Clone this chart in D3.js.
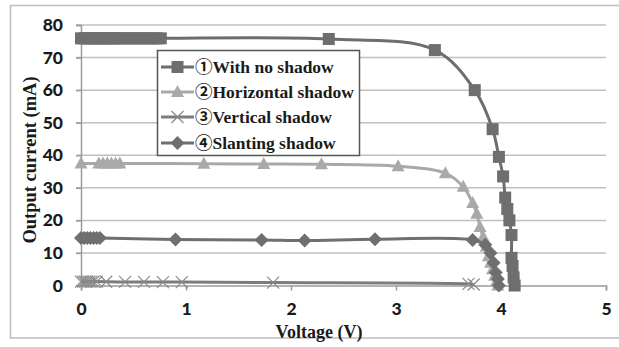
<!DOCTYPE html>
<html><head><meta charset="utf-8">
<script src="https://cdn.jsdelivr.net/npm/d3@7"></script>
<style>html,body{margin:0;padding:0;background:#fff;}svg{display:block;}</style>
</head><body>
<svg id="c" width="619" height="347"></svg>
<script>
// ---- data ----
const seriesNames = ["①With no shadow", "②Horizontal shadow", "③Vertical shadow", "④Slanting shadow"];
const xTicks = [0, 1, 2, 3, 4, 5];
const yTicks = [0, 10, 20, 30, 40, 50, 60, 70, 80];

const noShadowV = [0,0.03,0.06,0.09,0.12,0.15,0.18,0.21,0.24,0.27,0.3,0.33,0.36,0.4,0.44,0.48,0.52,0.56,0.6,0.64,0.68,0.72,0.76,2.36,3.37,3.75,3.92,3.98,4.02,4.04,4.06,4.08,4.1,4.1,4.11,4.12,4.13];
const noShadowI = [75.9,75.9,75.9,75.9,75.9,75.9,75.9,75.9,75.9,75.9,75.9,75.9,75.9,75.9,75.9,75.9,75.9,75.9,75.9,75.9,75.9,75.9,75.9,75.7,72.3,60,48,39.5,33.5,27,23.5,20,15.5,8.5,6,2.5,0];

const horizV = [0,0.17,0.21,0.25,0.29,0.33,0.37,1.17,1.74,2.29,3.02,3.47,3.64,3.73,3.77,3.8,3.83,3.86,3.88,3.9,3.92,3.94,3.96,3.97];
const horizI = [37.5,37.5,37.5,37.5,37.5,37.5,37.5,37.4,37.3,37.2,36.6,34.5,30.3,25.3,22,18,15,12,9,7,5,3,1.5,0];

const vertV = [0,0.02,0.04,0.06,0.08,0.1,0.12,0.15,0.24,0.42,0.6,0.78,0.96,1.83,3.69,3.74];
const vertI = [1.2,1.2,1.2,1.2,1.2,1.2,1.2,1.2,1.15,1.1,1.1,1.05,1.05,0.9,0.5,0.3];

const slantV = [0,0.03,0.06,0.09,0.12,0.15,0.18,0.9,1.72,2.13,2.8,3.73,3.85,3.9,3.93,3.95,3.97,3.98];
const slantI = [14.6,14.6,14.6,14.6,14.6,14.6,14.6,14.1,14.0,13.8,14.2,14.0,12.5,10,7,4,2,0];

// ---- chart ----
const svg = d3.select("#c");
const x = d3.scaleLinear().domain([0, 5]).range([81, 606]);
const y = d3.scaleLinear().domain([0, 80]).range([285.5, 25]);

// outer border
svg.append("rect").attr("x", 10.5).attr("y", 5.5).attr("width", 640).attr("height", 332.5)
  .attr("fill", "none").attr("stroke", "#bdbdbd").attr("stroke-width", 1.5);

// gridlines
svg.append("g").selectAll("line").data(yTicks.filter(d => d > 0)).join("line")
  .attr("x1", 76).attr("x2", 606).attr("y1", d => y(d)).attr("y2", d => y(d))
  .attr("stroke", "#bfbfbf").attr("stroke-width", 1.5);

// y axis
const yAxis = svg.append("g").attr("transform", "translate(81,0)")
  .call(d3.axisLeft(y).tickValues(yTicks).tickSize(5).tickPadding(13));
yAxis.select(".domain").attr("stroke", "#9a9a9a").attr("stroke-width", 1.5);
yAxis.selectAll(".tick line").attr("stroke", "#9a9a9a").attr("stroke-width", 1.5);
yAxis.selectAll("text").attr("font-family", "Lato, 'Open Sans', sans-serif").attr("font-weight", "900")
  .attr("font-size", 17.5).attr("fill", "#1a1a1a");

// x axis
const xAxis = svg.append("g").attr("transform", "translate(0,285.5)")
  .call(d3.axisBottom(x).tickValues(xTicks).tickSize(5).tickPadding(12).tickFormat(d3.format("d")));
xAxis.select(".domain").attr("stroke", "#9a9a9a").attr("stroke-width", 1.5);
xAxis.selectAll(".tick line").attr("stroke", "#9a9a9a").attr("stroke-width", 1.5);
xAxis.selectAll("text").attr("font-family", "Lato, 'Open Sans', sans-serif").attr("font-weight", "900")
  .attr("font-size", 17.5).attr("fill", "#1a1a1a");

// axis titles
svg.append("text").attr("x", 319).attr("y", 338).attr("text-anchor", "middle")
  .attr("font-family", "'Liberation Serif', 'Times New Roman', serif").attr("font-weight", "bold")
  .attr("font-size", 18).attr("fill", "#1a1a1a").text("Voltage (V)");
svg.append("text").attr("transform", "translate(36,160) rotate(-90)").attr("text-anchor", "middle")
  .attr("font-family", "'Liberation Serif', 'Times New Roman', serif").attr("font-weight", "bold")
  .attr("font-size", 18.5).attr("fill", "#1a1a1a").text("Output current  (mA)");

const series = [
  {name: seriesNames[0], v: noShadowV, i: noShadowI, color: "#6e6e70", sym: "square"},
  {name: seriesNames[1], v: horizV, i: horizI, color: "#a9a9a9", sym: "triangle"},
  {name: seriesNames[2], v: vertV, i: vertI, color: "#7c7c7c", sym: "x"},
  {name: seriesNames[3], v: slantV, i: slantI, color: "#6f6f6f", sym: "diamond"}
];

const line = d3.line().x(d => x(d[0])).y(d => y(d[1])).curve(d3.curveCatmullRom.alpha(0.5));

function drawMarker(g, sym, color, cx, cy) {
  if (sym === "square") {
    g.append("rect").attr("x", cx - 6).attr("y", cy - 6).attr("width", 12).attr("height", 12).attr("fill", color);
  } else if (sym === "triangle") {
    g.append("path").attr("d", `M${cx},${cy-7}L${cx+6.5},${cy+5}L${cx-6.5},${cy+5}Z`).attr("fill", color);
  } else if (sym === "diamond") {
    g.append("path").attr("d", `M${cx},${cy-7}L${cx+7},${cy}L${cx},${cy+7}L${cx-7},${cy}Z`).attr("fill", color);
  } else {
    g.append("path").attr("d", `M${cx-6},${cy-6}L${cx+6},${cy+6}M${cx+6},${cy-6}L${cx-6},${cy+6}`)
      .attr("stroke", "#8a8a8a").attr("stroke-width", 1.2).attr("fill", "none");
  }
}

series.forEach(s => {
  const pts = s.v.map((v, k) => [v, s.i[k]]);
  const g = svg.append("g");
  g.append("path").attr("d", line(pts)).attr("fill", "none").attr("stroke", s.color).attr("stroke-width", 3);
  pts.forEach(p => drawMarker(g, s.sym, s.color, x(p[0]), y(p[1])));
});

// legend
const lg = svg.append("g");
lg.append("rect").attr("x", 157.5).attr("y", 50.5).attr("width", 202).attr("height", 105)
  .attr("fill", "#fff").attr("stroke", "#555").attr("stroke-width", 1.5);
const rowsY = [67, 92, 117, 143];
series.forEach((s, k) => {
  const cy = rowsY[k];
  lg.append("line").attr("x1", 161).attr("x2", 194).attr("y1", cy).attr("y2", cy)
    .attr("stroke", s.color).attr("stroke-width", 3);
  drawMarker(lg, s.sym, s.color, 177.5, cy);
  lg.append("text").attr("x", 195).attr("y", cy + 6)
    .attr("font-family", "'Liberation Serif', 'Times New Roman', 'Noto Sans CJK JP', serif").attr("font-weight", "bold")
    .attr("font-size", 17.5).attr("fill", "#1a1a1a").text(s.name);
});
</script>
</body></html>
